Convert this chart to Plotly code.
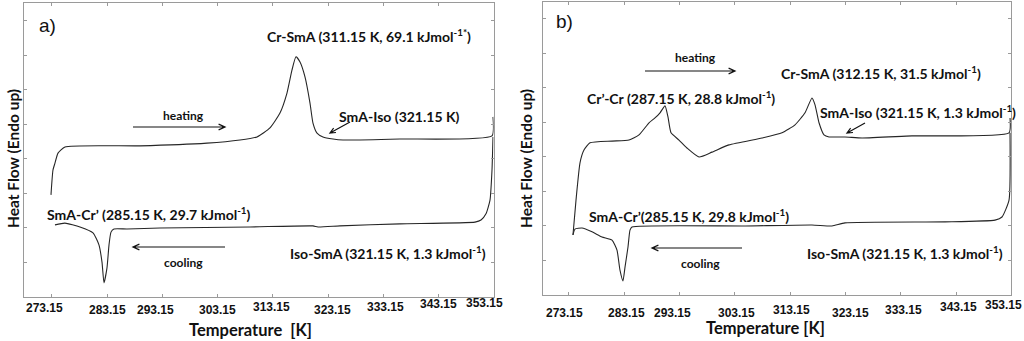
import math
import plotly.graph_objects as go

# ---- DSC thermograms: temperature [K] vs heat flow (arbitrary units, endo up) ----

# a) heating trace
heat_a_T = [272.97, 273.33, 273.69, 274.24, 275.5, 289.09, 301.23, 307.21, 310.29, 312.64,
            314.45, 315.72, 316.63, 317.35, 318.08, 318.98, 319.89, 320.43, 321.16, 322.24,
            324.06, 325.87, 336.19, 352.86, 353.04]
heat_a_hf = [2.96, 3.68, 3.88, 4.17, 4.35, 4.38, 4.46, 4.55, 4.64, 4.90,
             5.33, 5.91, 6.58, 6.96, 6.81, 6.38, 5.62, 5.04, 4.75, 4.64,
             4.58, 4.55, 4.58, 4.67, 5.22]

# a) cooling trace
cool_a_T = [353.04, 352.86, 352.5, 351.77, 350.87, 349.78, 336.19, 325.32, 321.34, 320.43,
            309.02, 292.71, 286.74, 284.38, 283.84, 283.48, 283.11, 282.57, 282.21, 281.66,
            280.58, 278.22, 275.5, 273.69]
cool_a_hf = [4.64, 3.68, 2.81, 2.41, 2.23, 2.17, 2.12, 2.06, 2.03, 2.06,
             2.03, 2.00, 1.97, 1.97, 1.88, 1.51, 0.84, 0.41, 1.01, 1.51,
             1.86, 2.03, 2.14, 2.09]

# b) heating trace
heat_b_T = [273.87, 274.42, 275.14, 275.86, 276.95, 280.93, 284.0, 285.81, 287.62, 288.70,
            289.61, 290.51, 291.05, 291.60, 293.04, 294.49, 296.66, 299.01, 302.08, 308.05,
            311.67, 314.02, 315.83, 317.09, 317.64, 318.36, 319.26, 320.17, 323.06, 326.14,
            335.17, 352.72, 352.9]
heat_b_hf = [1.74, 2.75, 3.83, 4.20, 4.41, 4.46, 4.49, 4.64, 4.99, 5.13,
             5.28, 5.48, 5.16, 4.70, 4.49, 4.26, 4.00, 4.14, 4.35, 4.55,
             4.70, 4.93, 5.28, 5.71, 5.51, 4.99, 4.64, 4.58, 4.58, 4.55,
             4.61, 4.70, 5.13]

# b) cooling trace
cool_b_T = [352.9, 352.72, 351.45, 350.19, 341.14, 323.06, 320.71, 317.09, 304.98, 284.54,
            284.18, 283.82, 283.28, 282.91, 282.37, 281.83, 280.93, 279.12, 277.31, 275.50,
            274.23, 273.87]
cool_b_hf = [4.70, 2.75, 2.26, 2.17, 2.12, 2.09, 2.00, 2.03, 2.00, 1.97,
             1.88, 1.39, 0.81, 0.41, 0.72, 1.30, 1.59, 1.68, 1.83, 1.94,
             1.91, 1.74]

# temperature ticks
tick_T = [273.15, 283.15, 293.15, 303.15, 313.15, 323.15, 333.15, 343.15, 353.15]
tick_labels = ["273.15", "283.15", "293.15", "303.15", "313.15",
               "323.15", "333.15", "343.15", "353.15"]

W, H = 1024, 341
LINE = "#262626"
TXT = "#111111"
LABEL_FONT = "Lato"
TICK_FONT = "Liberation Sans"


def px(x):
    return x / W


def py(y):
    return 1 - y / H


fig = go.Figure()
for T, hf, xa, ya in [(heat_a_T, heat_a_hf, "x", "y"), (cool_a_T, cool_a_hf, "x", "y"),
                      (heat_b_T, heat_b_hf, "x2", "y2"), (cool_b_T, cool_b_hf, "x2", "y2")]:
    fig.add_trace(go.Scatter(x=T, y=hf, xaxis=xa, yaxis=ya, mode="lines",
                             line=dict(color=LINE, width=1.1, shape="spline", smoothing=0.5),
                             hoverinfo="skip", showlegend=False))

axis_common = dict(showgrid=False, zeroline=False, showline=True, linecolor="#9a9a9a",
                   linewidth=1, mirror="ticks", ticks="inside", ticklen=3, tickcolor="#9a9a9a",
                   showticklabels=False)

fig.update_layout(
    width=W, height=H, margin=dict(l=0, r=0, t=0, b=0),
    paper_bgcolor="white", plot_bgcolor="white",
    xaxis=dict(domain=[px(24), px(493.6)], range=[268.08, 353.15], tickvals=tick_T, **axis_common),
    yaxis=dict(domain=[py(297), py(3)], range=[0, 8.52], dtick=1, tick0=0, anchor="x", **axis_common),
    xaxis2=dict(domain=[px(543), px(1011.4)], range=[268.45, 353.15], tickvals=tick_T,
                anchor="y2", **axis_common),
    yaxis2=dict(domain=[py(295), py(2)], range=[0, 8.49], dtick=1, tick0=0, anchor="x2", **axis_common),
)

ann = []
shapes = []

# tick labels placed under the ticks, slightly staggered
a_shift = [(-7, 308), (0, 310), (-7, 310), (0, 310), (-1, 307), (4, 310), (2, 307), (0, 304), (-9, 303)]
b_shift = [(-4, 313), (2, 313), (-7, 313), (2, 313), (1, 310), (5, 313), (3, 310), (2, 307), (-8, 305)]
for xref, shifts in [("x", a_shift), ("x2", b_shift)]:
    for t, lab, (dx, yy) in zip(tick_T, tick_labels, shifts):
        ann.append(dict(x=t, xref=xref, y=py(yy), yref="paper", text=lab, showarrow=False,
                        xshift=dx, xanchor="center", yanchor="middle",
                        font=dict(family=TICK_FONT, size=12, color=TXT, weight="bold")))


def text(x, y, s, size=14, anchor="left", family=LABEL_FONT, bold=True, angle=0):
    ann.append(dict(x=px(x), y=py(y), xref="paper", yref="paper", text=s, showarrow=False,
                    xanchor=anchor, yanchor="middle", textangle=angle,
                    font=dict(family=family, size=size, color=TXT,
                              weight="bold" if bold else "normal")))


def arrow(x0, y0, x1, y1, head=7, spread=0.42):
    # thin line from (x0, y0) to (x1, y1) with an open V head at (x1, y1), screen pixels
    ang = math.atan2(y1 - y0, x1 - x0)
    hx1 = x1 - head * math.cos(ang - spread)
    hy1 = y1 - head * math.sin(ang - spread)
    hx2 = x1 - head * math.cos(ang + spread)
    hy2 = y1 - head * math.sin(ang + spread)
    path = (f"M {px(x0)},{py(y0)} L {px(x1)},{py(y1)} "
            f"M {px(hx1)},{py(hy1)} L {px(x1)},{py(y1)} L {px(hx2)},{py(hy2)}")
    shapes.append(dict(type="path", xref="paper", yref="paper", path=path,
                       line=dict(color="#111", width=1.2)))


# axis titles
text(13, 159, "Heat Flow (Endo up)", size=15.5, anchor="center", angle=-90)
text(526, 159, "Heat Flow (Endo up)", size=15.5, anchor="center", angle=-90)
text(250, 330, "Temperature \u00a0[K]", size=16.5, anchor="center")
text(765, 328, "Temperature [K]", size=16.5, anchor="center")

# panel a)
text(37, 25, "a)", size=19, family="Liberation Sans", bold=False)
text(265, 35, "Cr-SmA (311.15 K, 69.1 kJmol<sup>-1*</sup>)")
text(183, 116, "heating", size=12, anchor="center")
arrow(133, 127, 225, 127)
text(337, 117, "SmA-Iso (321.15 K)")
arrow(350, 122, 330, 133, head=6)
text(45, 213, "SmA-Cr\u2019 (285.15 K, 29.7 kJmol<sup>-1</sup>)")
text(183, 262, "cooling", size=12, anchor="center")
arrow(225, 247, 133, 247)
text(288, 252, "Iso-SmA (321.15 K, 1.3 kJmol<sup>-1</sup>)")

# panel b)
text(554, 22, "b)", size=19, family="Liberation Sans", bold=False)
text(695, 58, "heating", size=12, anchor="center")
arrow(645, 71, 735, 71)
text(779, 72, "Cr-SmA (312.15 K, 31.5 kJmol<sup>-1</sup>)")
text(585, 98, "Cr\u2019-Cr (287.15 K, 28.8 kJmol<sup>-1</sup>)")
text(818, 112, "SmA-Iso (321.15 K, 1.3 kJmol<sup>-1</sup>)")
arrow(865, 123, 847, 133, head=6)
text(587, 215, "SmA-Cr\u2019(285.15 K, 29.8 kJmol<sup>-1</sup>)")
text(700, 263, "cooling", size=12, anchor="center")
arrow(742, 248, 652, 248)
text(805, 252, "Iso-SmA (321.15 K, 1.3 kJmol<sup>-1</sup>)")

fig.update_layout(annotations=ann, shapes=shapes)
fig.write_html("out.html")
